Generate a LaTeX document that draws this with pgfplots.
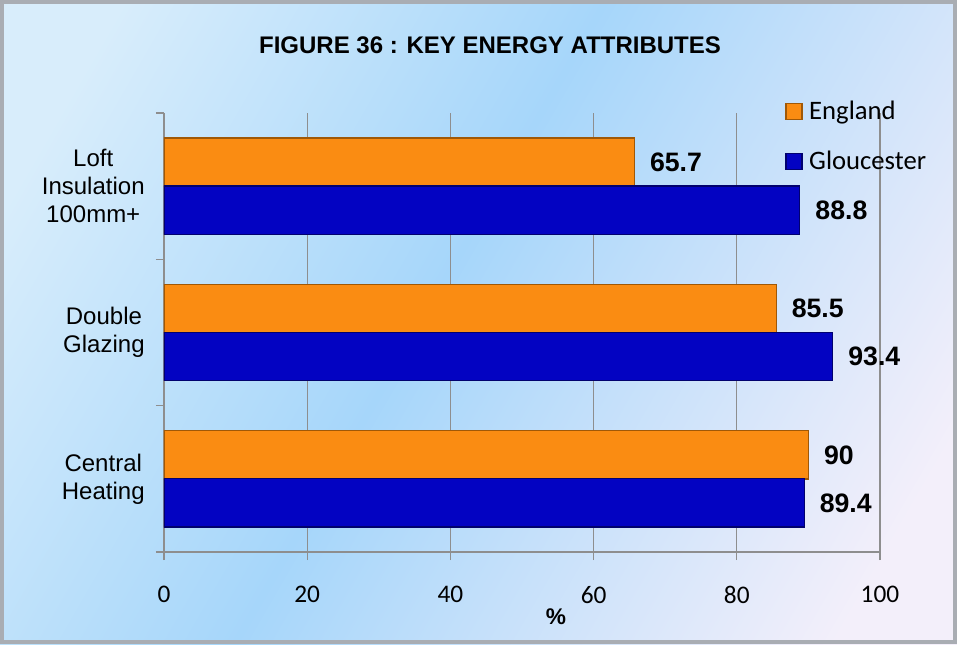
\documentclass[border=0pt]{standalone}
\usepackage{pgfplots}
\pgfplotsset{compat=1.18}
\usepackage{fontspec}
\setmainfont{Liberation Sans}
\newfontfamily\carlito{Carlito}
\definecolor{eng}{HTML}{FA8C12}
\definecolor{engdark}{HTML}{A05806}
\definecolor{glo}{HTML}{0303C2}
\definecolor{glodark}{HTML}{01016E}
\definecolor{axgray}{HTML}{8E8E8E}
\definecolor{bg1}{HTML}{D8EDFB}
\definecolor{bg2}{HTML}{A6D6FA}
\definecolor{bg3}{HTML}{F3EFFA}
\definecolor{frame}{HTML}{A9ADB3}
\pgfdeclarehorizontalshading{bgshade}{100bp}{color(0bp)=(bg1); color(22bp)=(bg1); color(47bp)=(bg2); color(78bp)=(bg3); color(100bp)=(bg3)}
\begin{document}
\begin{tikzpicture}
\shade[shading=bgshade, shading angle=-30] (0,0) rectangle (717.75pt,483pt);
\draw[frame, line width=3pt] (1.5pt,1.5pt) rectangle (716.25pt,481.5pt);
\node[font=\bfseries\fontsize{18}{21}\selectfont] at (367.5pt,449.25pt) {FIGURE 36 : KEY ENERGY ATTRIBUTES};
\begin{axis}[
  at={(123pt,69pt)}, anchor=south west,
  width=537pt, height=329.25pt, scale only axis,
  xbar, xmin=0, xmax=100, ymin=-0.5, ymax=2.5,
  bar width=0.33,
  axis lines*=left,
  axis line style={axgray, line width=1pt},
  xtick={0,20,40,60,80,100},
  xmajorgrids, grid style={axgray, line width=1pt},
  ytick={-0.5,0.5,1.5,2.5},
  y tick label as interval,
  yticklabels={{Central\\Heating},{Double\\Glazing},{Loft\\Insulation\\100mm+}},
  tick align=outside, major tick length=6pt,
  tick style={axgray, line width=1pt},
  yticklabel style={align=center, font=\fontsize{18}{21}\selectfont, xshift=-5pt},
  xticklabel style={font=\carlito\fontsize{19}{22}\selectfont, yshift=-16pt},
  /pgf/number format/assume math mode=true,
  xlabel={\%},
  xlabel style={font=\bfseries\fontsize{17}{19}\selectfont, at={(axis description cs:0.5475,-0.148)}, anchor=center},
  legend style={at={(0.862,1.04)}, anchor=north west, draw=none, fill=none,
    font=\carlito\fontsize{20}{23}\selectfont, row sep=18pt,
    /tikz/every odd column/.append style={column sep=3pt}},
  legend cell align=left,
  legend image code/.code={\draw[#1] (0pt,-6pt) rectangle (12pt,6pt);},
  nodes near coords,
  nodes near coords style={font=\bfseries\fontsize{20}{22}\selectfont, anchor=west, xshift=8pt, text=black},
]
\addplot[fill=eng, draw=engdark, line width=0.8pt, bar shift=0.164]
  coordinates {(90,0) (85.5,1) (65.7,2)};
\addplot[fill=glo, draw=glodark, line width=0.8pt, bar shift=-0.164]
  coordinates {(89.4,0) (93.4,1) (88.8,2)};
\legend{England, Gloucester}
\end{axis}
\end{tikzpicture}
\end{document}
